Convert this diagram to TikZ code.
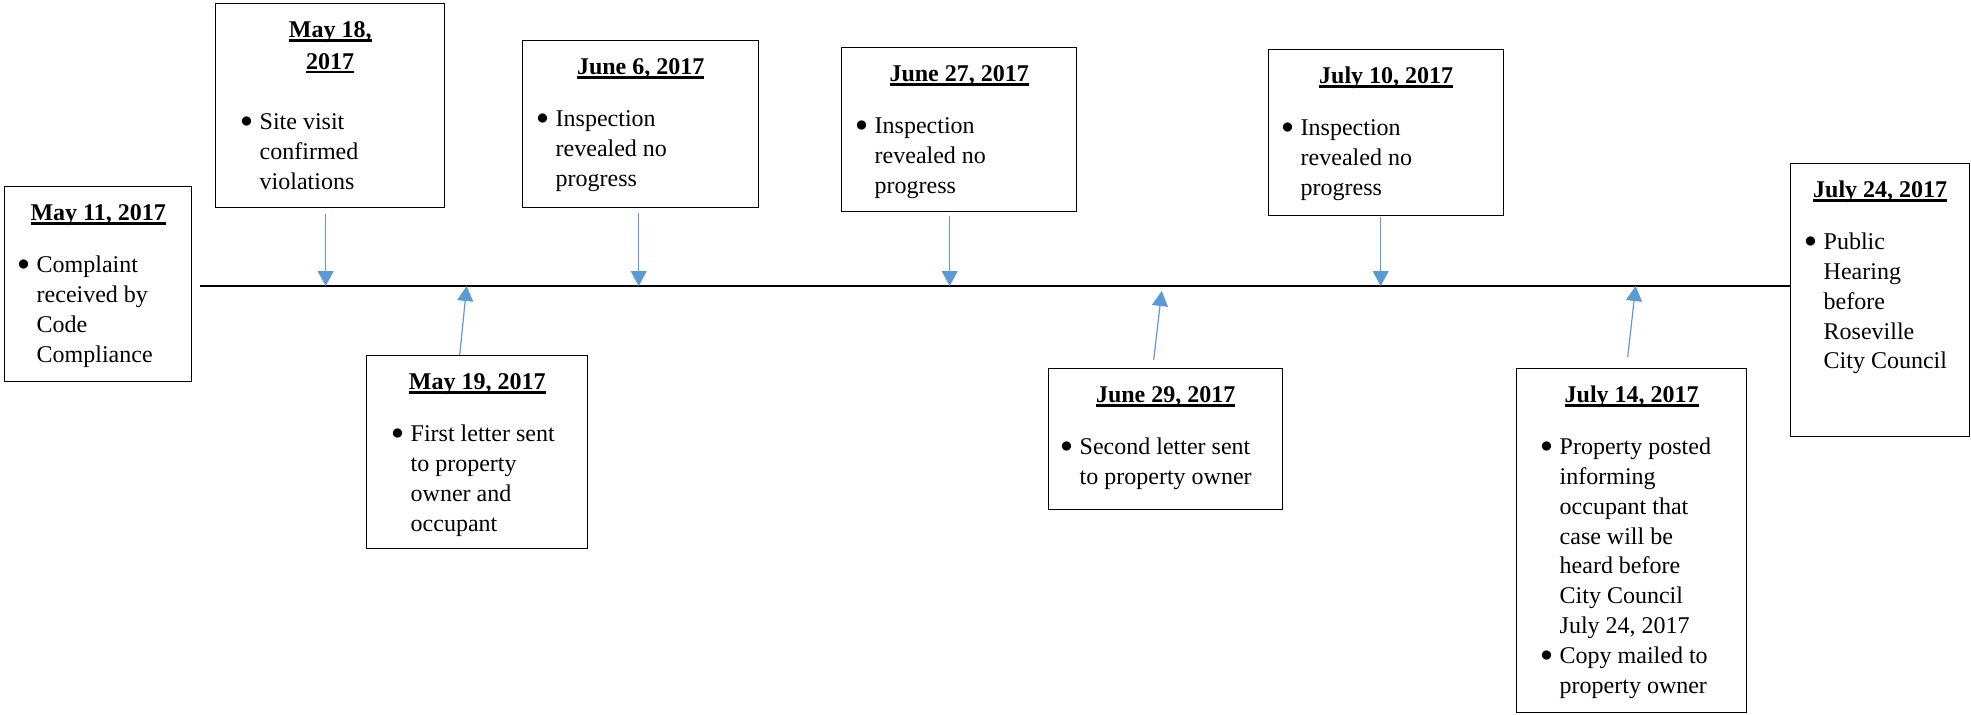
\documentclass[tikz,border=0pt]{standalone}
\usepackage{fontspec}
\setmainfont{Liberation Serif}
\usepackage{tikz}
\usetikzlibrary{arrows.meta}

\definecolor{tickblue}{RGB}{91,155,213}

% underlined bold date heading
\newcommand{\datetitle}[1]{\leavevmode\setbox0=\hbox{\bfseries #1}\rlap{\rule[-1.9pt]{\wd0}{1.2pt}}\box0}
% bullet item with hanging lines
\newcommand{\bitem}{\par\noindent\hangindent=9.5pt\hangafter=1\makebox[9.5pt][l]{\raisebox{1pt}{$\bullet$}}}
% box body: width, height, indent, heading, items
\newcommand{\evbox}[5]{\parbox[t][#2][t]{#1}{\centering\rule{0pt}{17pt}#4\par
  \vspace{11.1pt}\raggedright\leftskip=#3\relax\def\\{\newline}#5}}

\begin{document}
\begin{tikzpicture}[x=0.5pt,y=-0.5pt]
    \tikzstyle{event}=[draw,line width=0.7pt,inner sep=0pt,anchor=north west,
                       font=\fontsize{12}{14.9}\selectfont]
    \tikzstyle{tick}=[tickblue,line width=0.6pt,-{Triangle[length=7.5pt,width=8pt]}]

    \useasboundingbox (0,0) rectangle (1971,714);

    % boxes above the line
    \node[event] (may11) at (4,186)   {\evbox{93.5pt}{97.5pt}{6.5pt}{\datetitle{May 11, 2017}}{\bitem Complaint\\received by\\Code\\Compliance}};
    \node[event] (may18) at (215,3)   {\evbox{114.5pt}{102pt}{12.5pt}{\datetitle{May 18,}\\[1pt]\datetitle{2017}}{\vspace{4pt}\bitem Site visit\\confirmed\\violations}};
    \node[event] (jun6)  at (522,40)  {\evbox{118pt}{83.5pt}{7pt}{\datetitle{June 6, 2017}}{\bitem Inspection\\revealed no\\progress}};
    \node[event] (jun27) at (841,47)  {\evbox{117.5pt}{82pt}{7pt}{\datetitle{June 27, 2017}}{\bitem Inspection\\revealed no\\progress}};
    \node[event] (jul10) at (1268,49) {\evbox{117.5pt}{83pt}{6.5pt}{\datetitle{July 10, 2017}}{\bitem Inspection\\revealed no\\progress}};
    \node[event] (jul24) at (1790,163){\evbox{89.5pt}{136.5pt}{7pt}{\datetitle{July 24, 2017}}{\bitem Public\\Hearing\\before\\Roseville\\City Council}};

    % boxes below the line
    \node[event] (may19) at (366,355) {\evbox{110.5pt}{96.5pt}{12.5pt}{\datetitle{May 19, 2017}}{\bitem First letter sent\\to property\\owner and\\occupant}};
    \node[event] (jun29) at (1048,368){\evbox{117pt}{70.5pt}{6pt}{\datetitle{June 29, 2017}}{\bitem Second letter sent\\to property owner}};
    \node[event] (jul14) at (1516,368){\evbox{115pt}{172pt}{12pt}{\datetitle{July 14, 2017}}{\bitem Property posted\\informing\\occupant that\\case will be\\heard before\\City Council\\July 24, 2017\bitem Copy mailed to\\property owner}};

    % time line
    \coordinate (tl) at (200,286);
    \draw[line width=0.6pt] (tl) -- (tl -| jul24.west);

    \draw[tick] ([xshift=-2.25pt,yshift=-3pt]may18.south) -- ([xshift=-2.25pt]may18.south |- tl);
    \draw[tick] ([xshift=-1pt,yshift=-2.5pt]jun6.south)    -- ([xshift=-1pt]jun6.south |- tl);
    \draw[tick] ([xshift=-4.75pt,yshift=-2pt]jun27.south)  -- ([xshift=-4.75pt]jun27.south |- tl);
    \draw[tick] ([xshift=-2.75pt,yshift=-0.5pt]jul10.south)-- ([xshift=-2.75pt]jul10.south |- tl);

    \draw[tick] ([xshift=-8.75pt]may19.north)        -- ([xshift=-5.25pt]may19.north |- tl);
    \draw[tick] ([xshift=-6pt,yshift=4pt]jun29.north) -- ([xshift=-2pt,yshift=-2.5pt]jun29.north |- tl);
    \draw[tick] ([xshift=-2pt,yshift=5.5pt]jul14.north) -- ([xshift=2pt]jul14.north |- tl);
\end{tikzpicture}
\end{document}
